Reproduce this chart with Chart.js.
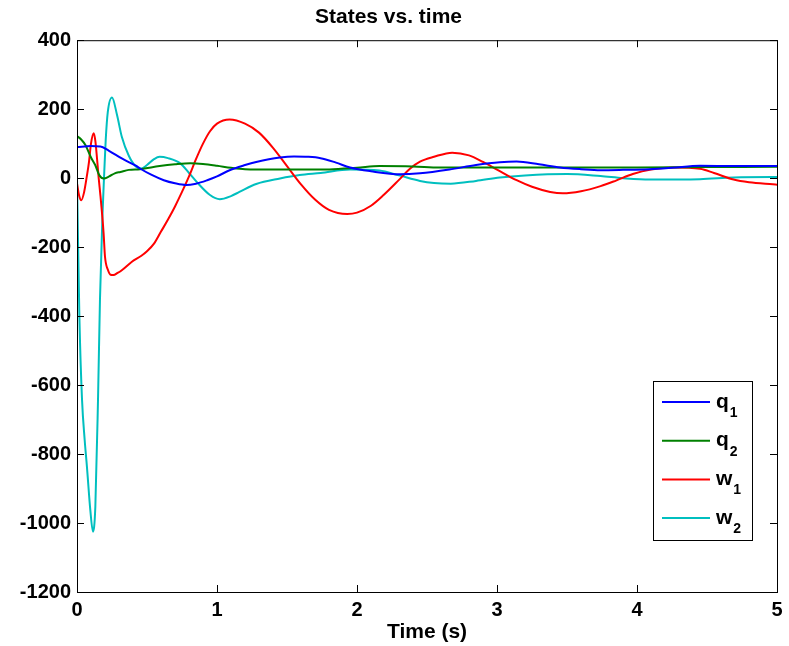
<!DOCTYPE html>
<html>
<head>
<meta charset="utf-8">
<title>States vs. time</title>
<script src="https://cdn.jsdelivr.net/npm/chart.js@4.4.1/dist/chart.umd.min.js"></script>
<style>
    html, body { margin: 0; padding: 0; background: #fff; }
    #wrap { width: 789px; height: 646px; }
</style>
</head>
<body>
<div id="wrap"><canvas id="states" width="789" height="646"></canvas></div>
<script>
const FONT = '"Liberation Sans", Arial, Helvetica, sans-serif'
const TICK_LEN = 7

// tick labels
const xTicks = [0, 1, 2, 3, 4, 5]
const yTicks = [400, 200, 0, -200, -400, -600, -800, -1000, -1200]

// q1
const q1Time = [0, 0.1, 0.167, 0.226, 0.32, 0.42, 0.45, 0.53, 0.62, 0.7, 0.78, 0.85, 0.93, 1.0, 1.09, 1.2, 1.28, 1.45, 1.55, 1.65, 1.74, 1.85, 1.95, 2.1, 2.31, 2.45, 2.66, 2.85, 3.02, 3.14, 3.3, 3.45, 3.6, 3.74, 3.9, 4.09, 4.25, 4.45, 4.7, 4.97, 5]
const q1 = [90, 93, 92, 80, 57, 36, 28, 10, -6, -15, -20, -16, -6, 5, 23, 38, 47, 60, 63, 62, 58, 45, 31, 20, 11, 14, 25, 38, 46, 48, 40, 31, 26, 23, 24, 26, 30, 36, 35, 35, 35]

// q2
const q2Time = [0, 0.03, 0.06, 0.1, 0.13, 0.16, 0.19, 0.23, 0.27, 0.31, 0.37, 0.45, 0.59, 0.7, 0.81, 0.9, 1.0, 1.1, 1.2, 1.4, 1.74, 1.83, 2.0, 2.16, 2.4, 2.59, 3.0, 4.0, 4.5, 5.0]
const q2 = [122, 112, 96, 60, 38, 8, -1, 5, 14, 18, 24, 26, 35, 40, 43, 41, 36, 30, 26, 25, 25, 26, 30, 35, 34, 31, 31, 31, 32, 33]

// w1
const w1Time = [0, 0.015, 0.031, 0.05, 0.07, 0.085, 0.1, 0.119, 0.131, 0.143, 0.155, 0.167, 0.18, 0.19, 0.2, 0.22, 0.24, 0.26, 0.29, 0.32, 0.39, 0.46, 0.5, 0.55, 0.6, 0.65, 0.7, 0.75, 0.8, 0.85, 0.9, 0.95, 1.0, 1.09, 1.2, 1.3, 1.4, 1.5, 1.6, 1.7, 1.8, 1.93, 2.0, 2.1, 2.19, 2.3, 2.38, 2.45, 2.55, 2.68, 2.8, 2.9, 3.0, 3.14, 3.25, 3.38, 3.47, 3.6, 3.74, 3.85, 3.97, 4.1, 4.26, 4.45, 4.55, 4.69, 4.8, 4.97, 5.0]
const w1 = [-15, -50, -64, -42, 5, 45, 100, 130, 108, 57, 0, -49, -107, -160, -228, -265, -280, -281, -275, -267, -243, -225, -212, -190, -155, -120, -82, -40, 5, 55, 100, 136, 158, 170, 158, 132, 88, 35, -18, -62, -92, -104, -100, -80, -49, -5, 28, 48, 62, 74, 66, 47, 25, -6, -25, -40, -44, -38, -23, -7, 12, 25, 31, 27, 15, -4, -12, -18, -19]

// w2
const w2Time = [0, 0.004, 0.017, 0.036, 0.055, 0.071, 0.095, 0.114, 0.131, 0.15, 0.164, 0.182, 0.195, 0.205, 0.22, 0.25, 0.286, 0.32, 0.37, 0.42, 0.46, 0.5, 0.55, 0.59, 0.65, 0.74, 0.8, 0.855, 0.95, 1.02, 1.1, 1.16, 1.28, 1.45, 1.59, 1.74, 1.95, 2.16, 2.3, 2.45, 2.55, 2.67, 2.85, 3.02, 3.2, 3.5, 3.74, 3.9, 4.09, 4.45, 4.69, 4.97, 5.0]
const w2 = [0, -100, -402, -643, -760, -837, -962, -1025, -953, -643, -354, -107, 20, 110, 192, 234, 183, 120, 65, 34, 28, 38, 55, 62, 58, 42, 15, -11, -49, -61, -52, -40, -17, -1, 9, 15, 25, 22, 8, -8, -14, -16, -8, 2, 8, 12, 6, 0, -4, -3, 2, 3, 3]

const toPoints = (times, values) => times.map((t, i) => ({ x: t, y: values[i] }))

function series(label, times, values, color) {
    return {
        label,
        data: toPoints(times, values),
        borderColor: color,
        backgroundColor: color,
        borderWidth: 2,
        pointRadius: 0,
        cubicInterpolationMode: 'monotone',
        fill: false
    }
}

// box around the plot, inward ticks on all four sides, and the boxed legend
const framePlugin = {
    id: 'frame',
    afterDatasetsDraw(chart) {
        const { ctx, chartArea: a, scales: { x, y } } = chart
        ctx.save()
        ctx.strokeStyle = '#000'
        ctx.lineWidth = 1
        ctx.strokeRect(a.left + 0.5, a.top + 0.5, a.right - a.left, a.bottom - a.top)

        ctx.beginPath()
        x.ticks.forEach(t => {
            const px = Math.round(x.getPixelForValue(t.value)) + 0.5
            ctx.moveTo(px, a.bottom)
            ctx.lineTo(px, a.bottom - TICK_LEN)
            ctx.moveTo(px, a.top)
            ctx.lineTo(px, a.top + TICK_LEN)
        })
        y.ticks.forEach(t => {
            const py = Math.round(y.getPixelForValue(t.value)) + 0.5
            ctx.moveTo(a.left, py)
            ctx.lineTo(a.left + TICK_LEN, py)
            ctx.moveTo(a.right, py)
            ctx.lineTo(a.right - TICK_LEN, py)
        })
        ctx.stroke()

        // legend
        const boxL = a.right - 124
        const boxT = a.bottom - 211
        ctx.fillStyle = '#fff'
        ctx.fillRect(boxL, boxT, 99, 159)
        ctx.strokeRect(boxL + 0.5, boxT + 0.5, 99, 159)

        chart.data.datasets.forEach((ds, i) => {
            const ly = boxT + 21 + i * 38.7
            ctx.strokeStyle = ds.borderColor
            ctx.lineWidth = 2
            ctx.beginPath()
            ctx.moveTo(boxL + 9, ly)
            ctx.lineTo(boxL + 57, ly)
            ctx.stroke()

            const [main, sub] = ds.label.split('_')
            ctx.fillStyle = '#000'
            ctx.textBaseline = 'alphabetic'
            ctx.textAlign = 'left'
            ctx.font = `bold 21px ${FONT}`
            ctx.fillText(main, boxL + 63, ly + 5.5)
            const w = ctx.measureText(main).width
            ctx.font = `bold 14px ${FONT}`
            ctx.fillText(sub, boxL + 64 + w, ly + 15)
        })
        ctx.restore()
    }
}

new Chart(document.getElementById('states').getContext('2d'), {
    type: 'line',
    data: {
        datasets: [
            series('q_1', q1Time, q1, '#0000ff'),
            series('q_2', q2Time, q2, '#008000'),
            series('w_1', w1Time, w1, '#ff0000'),
            series('w_2', w2Time, w2, '#00bfbf')
        ]
    },
    options: {
        responsive: false,
        animation: false,
        devicePixelRatio: 1,
        layout: { padding: { left: 0, right: 12, top: 0, bottom: 0 } },
        plugins: {
            legend: { display: false },
            tooltip: { enabled: false },
            title: {
                display: true,
                text: 'States vs. time',
                color: '#000',
                font: { family: FONT, size: 21, weight: 'bold' },
                padding: { top: 5, bottom: 10 }
            }
        },
        scales: {
            x: {
                type: 'linear',
                min: 0,
                max: 5,
                afterBuildTicks: scale => { scale.ticks = xTicks.map(v => ({ value: v })) },
                afterFit: scale => { scale.height = 54 },
                grid: { display: false, drawTicks: false },
                border: { display: false },
                ticks: {
                    color: '#000',
                    padding: 6,
                    maxRotation: 0,
                    callback: v => String(v),
                    font: { family: FONT, size: 20, weight: 'bold' }
                },
                title: {
                    display: true,
                    text: 'Time (s)',
                    color: '#000',
                    font: { family: FONT, size: 21, weight: 'bold' },
                    padding: { top: 0, bottom: 1 }
                }
            },
            y: {
                min: -1200,
                max: 400,
                afterBuildTicks: scale => { scale.ticks = yTicks.map(v => ({ value: v })) },
                afterFit: scale => { scale.width = 77 },
                grid: { display: false, drawTicks: false },
                border: { display: false },
                ticks: {
                    color: '#000',
                    padding: 6,
                    callback: v => String(v),
                    font: { family: FONT, size: 20, weight: 'bold' }
                }
            }
        }
    },
    plugins: [framePlugin]
})
</script>
</body>
</html>
